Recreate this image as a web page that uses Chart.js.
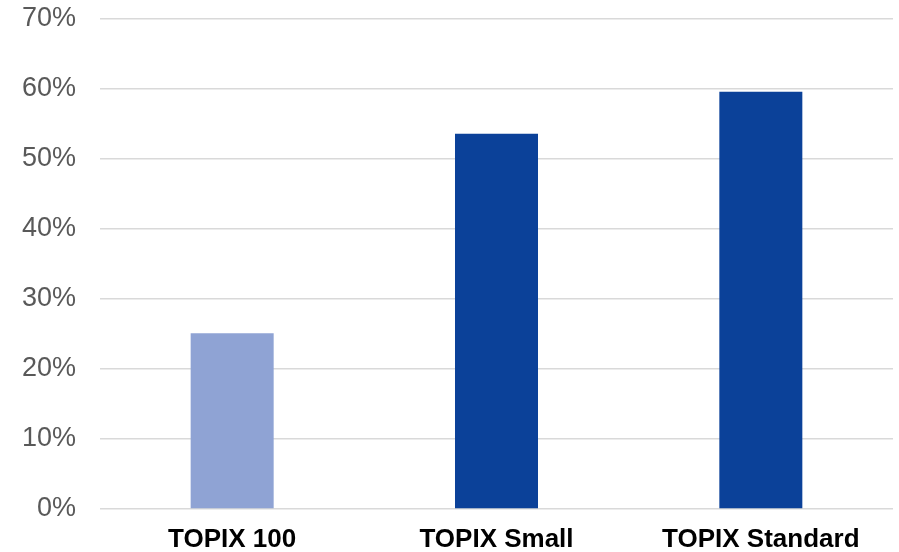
<!DOCTYPE html>
<html>
<head>
<meta charset="utf-8">
<script src="https://cdn.jsdelivr.net/npm/chart.js@4"></script>
<style>
  html, body { margin: 0; padding: 0; background: #fff; }
</style>
</head>
<body>
<canvas id="chart" width="899" height="552"></canvas>
<script>
const categories = ['TOPIX 100', 'TOPIX Small', 'TOPIX Standard'];
const shares = [25.1, 53.6, 59.6];
const barColors = ['#8FA3D4', '#0B4199', '#0B4199'];

new Chart(document.getElementById('chart'), {
    type: 'bar',
    data: {
        labels: categories,
        datasets: [{
            data: shares,
            backgroundColor: barColors,
            borderWidth: 0,
            categoryPercentage: 1,
            barPercentage: 0.314
        }]
    },
    options: {
        responsive: false,
        animation: false,
        layout: { padding: { top: 19, right: 6, left: 0, bottom: 0 } },
        plugins: {
            legend: { display: false },
            tooltip: { enabled: false }
        },
        scales: {
            x: {
                grid: { display: false },
                border: { display: false },
                ticks: {
                    color: '#000',
                    font: { family: 'Liberation Sans, Arial', size: 26, weight: 'bold' },
                    padding: 7
                },
                afterFit: s => { s.height = 43; }
            },
            y: {
                min: 0,
                max: 70,
                ticks: {
                    stepSize: 10,
                    color: '#595959',
                    padding: 0,
                    font: { family: 'Liberation Sans, Arial', size: 27, lineHeight: 1 },
                    callback: v => v + '%'
                },
                grid: { color: '#D9D9D9', lineWidth: 1.5, drawTicks: true, tickLength: 24, tickColor: 'rgba(0,0,0,0)' },
                border: { display: false },
                afterFit: s => { s.width = 100; }
            }
        }
    }
});
</script>
</body>
</html>
